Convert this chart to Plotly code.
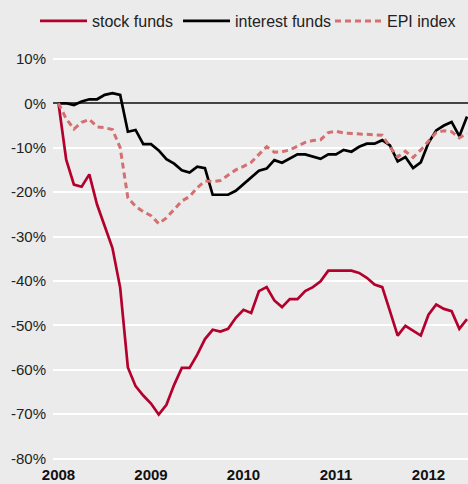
import plotly.graph_objects as go

# monthly observations starting Jan 2008
months = list(range(54))
stock_funds = [0, -12.7, -18.3, -18.8, -16.0, -22.8, -27.7, -32.6, -41.5, -59.5,
               -63.7, -65.8, -67.6, -70.1, -67.9, -63.4, -59.6, -59.6, -56.6, -53.1,
               -51.0, -51.4, -50.8, -48.3, -46.5, -47.2, -42.3, -41.4, -44.4, -45.9,
               -44.1, -44.1, -42.3, -41.4, -40.1, -37.7, -37.7, -37.7, -37.7, -38.2,
               -39.3, -40.8, -41.4, -46.8, -52.3, -50.1, -51.3, -52.3, -47.6, -45.3,
               -46.3, -46.8, -50.8, -48.6]
interest_funds = [0, 0, -0.4, 0.4, 0.9, 0.9, 1.9, 2.3, 1.9, -6.4,
                  -6.0, -9.2, -9.2, -10.6, -12.6, -13.6, -15.1, -15.6, -14.3, -14.6,
                  -20.6, -20.6, -20.6, -19.7, -18.2, -16.7, -15.2, -14.7, -12.8, -13.4,
                  -12.4, -11.5, -11.5, -12.0, -12.5, -11.5, -11.5, -10.5, -10.9, -9.8,
                  -9.1, -9.1, -8.3, -9.5, -13.1, -12.1, -14.6, -13.3, -8.9, -6.1,
                  -5.0, -4.2, -7.4, -3.0]
epi_index = [0, -3.5, -5.8, -4.3, -3.6, -5.3, -5.5, -5.9, -10.0, -21.3,
             -23.2, -24.4, -25.3, -27.1, -25.8, -23.8, -22.0, -21.0, -19.0, -17.5,
             -17.6, -17.4, -16.2, -15.0, -14.2, -13.3, -11.5, -9.8, -11.0, -10.9,
             -10.5, -9.7, -8.8, -8.4, -8.2, -6.6, -6.3, -6.7, -6.8, -6.8,
             -6.9, -7.0, -7.2, -9.8, -12.1, -10.8, -12.2, -10.5, -8.5, -6.6,
             -6.2, -6.4, -7.8, -6.8]

x_vals = [2008 + m / 12 for m in months]

year_ticks = [2008, 2009, 2010, 2011, 2012]
year_labels = ["2008", "2009", "2010", "2011", "2012"]
pct_ticks = [10, 0, -10, -20, -30, -40, -50, -60, -70, -80]
pct_labels = ["10%", "0%", "-10%", "-20%", "-30%", "-40%", "-50%", "-60%", "-70%", "-80%"]

BG = "#ebebeb"
FONT = "Liberation Sans, Arial, Helvetica, sans-serif"

fig = go.Figure()
fig.add_trace(go.Scatter(x=x_vals, y=stock_funds, mode="lines", name="stock funds",
                         legend="legend",
                         line=dict(color="#b3002d", width=2.7)))
fig.add_trace(go.Scatter(x=x_vals, y=interest_funds, mode="lines", name="interest funds",
                         legend="legend2",
                         line=dict(color="#000000", width=2.7)))
fig.add_trace(go.Scatter(x=x_vals, y=epi_index, mode="lines", name="EPI index",
                         legend="legend3",
                         line=dict(color="#d47070", width=3, dash="6px,4px")))


def leg(xpx):
    return dict(orientation="h", xref="container", x=xpx / 468, xanchor="left",
                yref="container", y=1 - 21 / 484, yanchor="middle",
                font=dict(size=16, color="#222222"),
                bgcolor="rgba(0,0,0,0)", itemwidth=47)


fig.update_layout(
    width=468, height=484,
    paper_bgcolor=BG, plot_bgcolor=BG,
    margin=dict(l=53, r=0, t=50, b=21, autoexpand=False),
    font=dict(family=FONT, color="#222222", size=15),
    showlegend=True,
    legend=leg(35), legend2=leg(178), legend3=leg(330),
    xaxis=dict(range=[2008 - 5.5 / 92.5, 2008 + 409.5 / 92.5], tickvals=year_ticks,
               ticktext=year_labels, showgrid=False, zeroline=False, showline=False,
               ticks="", ticklabelstandoff=1, automargin=False,
               tickfont=dict(size=15, weight="bold", color="#111111")),
    yaxis=dict(range=[-81, 12], tickvals=pct_ticks, ticktext=pct_labels,
               showgrid=True, gridcolor="#ffffff", gridwidth=1.5,
               zeroline=True, zerolinecolor="#444444", zerolinewidth=1.5,
               showline=False, ticks="", ticklabelstandoff=6, automargin=False,
               tickfont=dict(size=15, color="#222222")),
)

fig.write_html("out.html", config={"displayModeBar": False},
               post_script="document.body.style.margin='0';"
                           "document.body.style.background='#ebebeb';")
